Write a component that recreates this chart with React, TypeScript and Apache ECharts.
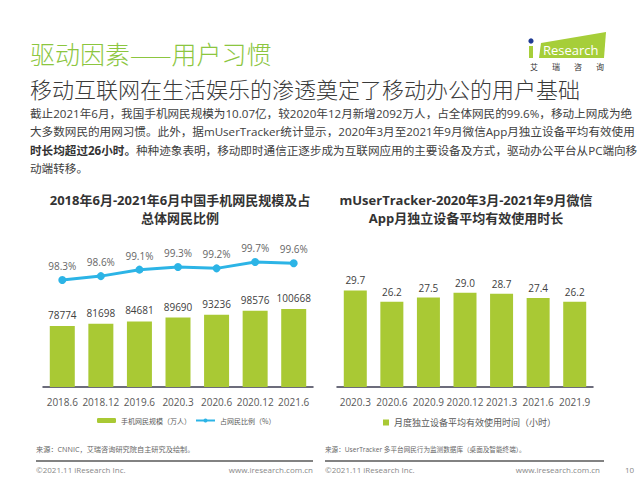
import React, { useEffect, useRef } from 'react';
import * as echarts from 'echarts';

const leftCategories = ['2018.6', '2018.12', '2019.6', '2020.3', '2020.6', '2020.12', '2021.6'];
const mobileUsers = [78774, 81698, 84681, 89690, 93236, 98576, 100668];
const mobileShare = [98.3, 98.6, 99.1, 99.3, 99.2, 99.7, 99.6];
const rightCategories = ['2020.3', '2020.6', '2020.9', '2020.12', '2021.3', '2021.6', '2021.9'];
const wechatHours = [29.7, 26.2, 27.5, 29.0, 28.7, 27.4, 26.2];

const usersName = '手机网民规模（万人）';
const shareName = '占网民比例（%）';
const hoursName = '月度独立设备平均有效使用时间（小时）';

const pageTitle = '驱动因素——用户习惯';
const pageSubtitle = '移动互联网在生活娱乐的渗透奠定了移动办公的用户基础';
const paragraphLines = [
  '截止2021年6月，我国手机网民规模为10.07亿，较2020年12月新增2092万人，占全体网民的99.6%，移动上网成为绝',
  '大多数网民的用网习惯。此外，据mUserTracker统计显示，2020年3月至2021年9月微信App月独立设备平均有效使用',
  '{b|时长均超过26小时。}{n|种种迹象表明，移动即时通信正逐步成为互联网应用的主要设备及方式，驱动办公平台从PC端向移}',
  '动端转移。',
];
const leftTitle = ['2018年6月-2021年6月中国手机网民规模及占', '总体网民比例'];
const rightTitle = ['mUserTracker-2020年3月-2021年9月微信', 'App月独立设备平均有效使用时长'];
const leftSource = '来源：CNNIC，艾瑞咨询研究院自主研究及绘制。';
const rightSource = '来源：UserTracker 多平台网民行为监测数据库（桌面及智能终端）。';
const copyright = '©2021.11 iResearch Inc.';
const website = 'www.iresearch.com.cn';

const CJK = "'Noto Sans CJK SC', sans-serif";
const MIX = "'Open Sans', 'Noto Sans CJK SC', sans-serif";
const GREEN = '#a9c934';
const BLUE = '#2cb4e6';

function txt(text: string, x: number, y: number, size: number, color: string, opts: any = {}) {
  const align = opts.align || 'left';
  const weight = opts.weight || 'normal';
  const family = opts.family || MIX;
  return {
    type: 'text',
    x,
    y,
    silent: true,
    style: {
      text,
      font: `${weight} ${size}px ${family}`,
      fill: color,
      textAlign: align,
      align,
      textVerticalAlign: 'middle',
      verticalAlign: 'middle',
      rich: opts.rich,
    },
  };
}

export default function App() {
  const ref = useRef<HTMLDivElement>(null);
  useEffect(() => {
    if (!ref.current) return;
    const chart = echarts.init(ref.current, null, { renderer: 'svg' });
    const paraSize = 11.6;
    const graphics: any[] = [
      txt(pageTitle, 30, 53, 25, '#8cc63f', { family: CJK, weight: 300 }),
      txt(pageSubtitle, 30, 88, 22, '#3a3a3a', { family: CJK, weight: 300 }),
      // logo
      { type: 'polygon', silent: true, shape: { points: [[541, 43], [606, 32], [604, 58], [539, 58]] }, style: { fill: '#a6ce39' } },
      { type: 'rect', silent: true, shape: { x: 529, y: 46, width: 4, height: 12 }, style: { fill: '#a6ce39' } },
      { type: 'circle', silent: true, shape: { cx: 531, cy: 41, r: 2.6 }, style: { fill: '#1f3a93' } },
      txt('Research', 543, 50, 13, '#ffffff', { family: "'Open Sans', sans-serif" }),
      txt('艾', 530, 66, 8, '#333333', { family: CJK }),
      txt('瑞', 552, 66, 8, '#333333', { family: CJK }),
      txt('咨', 574, 66, 8, '#333333', { family: CJK }),
      txt('询', 596, 66, 8, '#333333', { family: CJK }),
      // paragraph
      txt(paragraphLines[0], 30, 113, paraSize, '#404040'),
      txt(paragraphLines[1], 30, 131, paraSize, '#404040'),
      txt(paragraphLines[2], 30, 150, paraSize, '#404040', {
        rich: {
          b: { fontWeight: 'bold', fontSize: paraSize, fontFamily: MIX, fill: '#333333', color: '#333333' },
          n: { fontSize: paraSize, fontFamily: MIX, fill: '#404040', color: '#404040' },
        },
      }),
      txt(paragraphLines[3], 30, 168, paraSize, '#404040'),
      // chart titles
      txt(leftTitle[0], 180, 200, 13, '#333333', { align: 'center', weight: 'bold' }),
      txt(leftTitle[1], 180, 218, 13, '#333333', { align: 'center', weight: 'bold' }),
      txt(rightTitle[0], 466, 200, 13, '#333333', { align: 'center', weight: 'bold' }),
      txt(rightTitle[1], 466, 218, 13, '#333333', { align: 'center', weight: 'bold' }),
      // sources
      txt(leftSource, 36, 449, 7.2, '#666666'),
      txt(rightSource, 325, 449, 6.6, '#666666'),
      { type: 'line', silent: true, shape: { x1: 36, y1: 461, x2: 313, y2: 461 }, style: { stroke: '#595959', lineWidth: 1.5 } },
      { type: 'line', silent: true, shape: { x1: 325, y1: 461, x2: 604, y2: 461 }, style: { stroke: '#595959', lineWidth: 1.5 } },
      txt(copyright, 36, 469, 8, '#888888'),
      txt(website, 313, 469, 8, '#888888', { align: 'right' }),
      txt(copyright, 325, 469, 8, '#888888'),
      txt(website, 600, 469, 8, '#888888', { align: 'right' }),
      txt('10', 625, 469, 8, '#888888'),
    ];

    const axisCommon = {
      type: 'category' as const,
      axisTick: { show: false },
      axisLine: { lineStyle: { color: '#3c3c50', width: 1.5 } },
      axisLabel: { color: '#595959', fontSize: 10, fontFamily: MIX, margin: 10, interval: 0 },
    };

    chart.setOption({
      animation: false,
      backgroundColor: '#ffffff',
      textStyle: { fontFamily: MIX },
      grid: [
        { left: 43, top: 240, width: 270, height: 147 },
        { left: 337, top: 240, width: 256, height: 147 },
      ],
      xAxis: [
        { ...axisCommon, gridIndex: 0, data: leftCategories },
        { ...axisCommon, gridIndex: 1, data: rightCategories },
      ],
      yAxis: [
        { type: 'value', gridIndex: 0, min: 0, max: 190000, show: false, splitLine: { show: false } },
        { type: 'value', gridIndex: 0, min: 90, max: 101.4, show: false, splitLine: { show: false } },
        { type: 'value', gridIndex: 1, min: 0, max: 45.2, show: false, splitLine: { show: false } },
      ],
      legend: [
        {
          data: [usersName, shareName],
          left: 97,
          top: 417,
          padding: 0,
          itemWidth: 19,
          itemHeight: 5,
          itemGap: 4,
          textStyle: { fontSize: 7, color: '#595959', fontFamily: CJK },
          selectedMode: false,
        },
        {
          data: [{ name: hoursName, icon: 'rect' }],
          left: 383,
          top: 418,
          padding: 0,
          itemWidth: 6,
          itemHeight: 6,
          textStyle: { fontSize: 9, color: '#595959', fontFamily: CJK },
          selectedMode: false,
        },
      ],
      series: [
        {
          name: usersName,
          type: 'bar',
          xAxisIndex: 0,
          yAxisIndex: 0,
          data: mobileUsers,
          barWidth: 25,
          itemStyle: { color: GREEN },
          label: { show: true, position: 'top', distance: 6, color: '#404040', fontSize: 10, fontFamily: MIX },
        },
        {
          name: shareName,
          type: 'line',
          xAxisIndex: 0,
          yAxisIndex: 1,
          data: mobileShare,
          z: 5,
          symbol: 'circle',
          symbolSize: 8,
          lineStyle: { color: BLUE, width: 3 },
          itemStyle: { color: BLUE },
          label: { show: true, position: 'top', distance: 5, color: '#666666', fontSize: 10, fontFamily: MIX, formatter: (p: any) => `${p.value.toFixed(1)}%` },
        },
        {
          name: hoursName,
          type: 'bar',
          xAxisIndex: 1,
          yAxisIndex: 2,
          data: wechatHours,
          barWidth: 23,
          itemStyle: { color: GREEN },
          label: { show: true, position: 'top', distance: 5, color: '#404040', fontSize: 10, fontFamily: MIX, formatter: (p: any) => p.value.toFixed(1) },
        },
      ],
      graphic: graphics,
    });
    return () => chart.dispose();
  }, []);
  return <div ref={ref} style={{ position: 'fixed', left: 0, top: 0, width: 640, height: 480 }} />;
}
